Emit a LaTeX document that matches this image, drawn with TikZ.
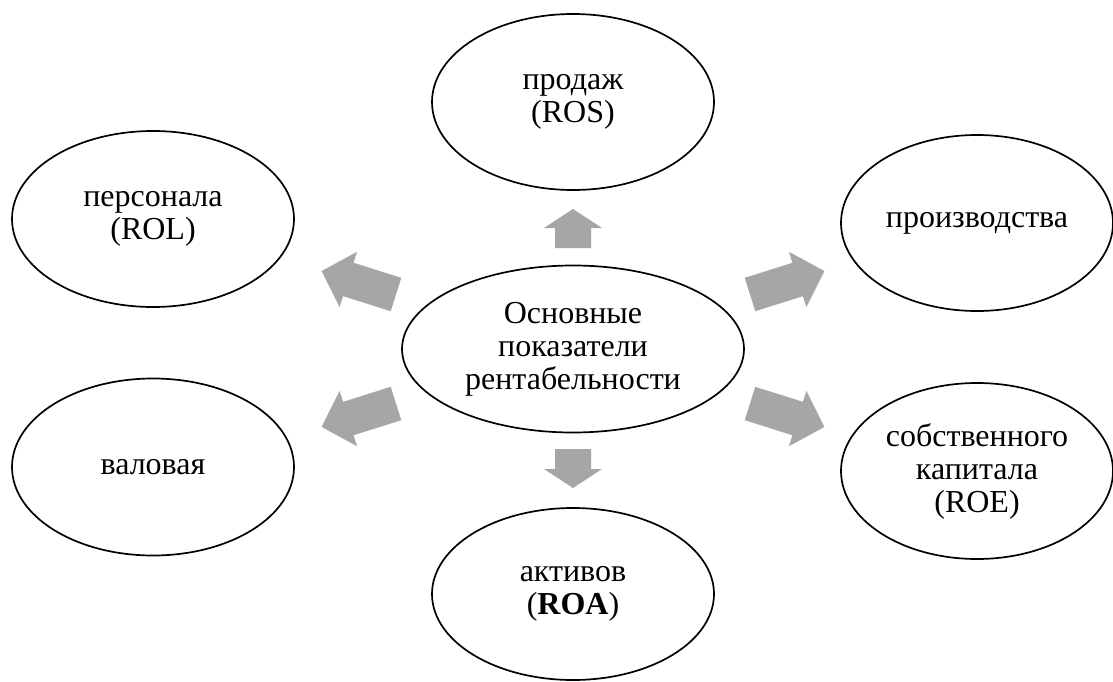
\documentclass[tikz,border=0pt]{standalone}
\usepackage{fontspec}
\setmainfont{Liberation Serif}
\usetikzlibrary{shapes.geometric,calc}
\definecolor{arrowgray}{RGB}{166,166,166}
% #1,#2 offset of the tail centre from the central node, #3 angle, #4 length,
% #5 shaft half width, #6 head half width, #7 head length
\newcommand\blockarrow[7]{%
  \fill[arrowgray, shift={($(c.center)+(#1,#2)$)}, rotate=#3]
    (0,-#5) -- ({#4-#7},-#5) -- ({#4-#7},-#6) -- (#4,0) -- ({#4-#7},#6)
    -- ({#4-#7},#5) -- (0,#5) -- cycle;}
\tikzset{
  bubble/.style={ellipse, draw=black, line width=1.7pt, inner sep=0pt,
    align=center, font=\fontsize{32}{33}\selectfont,
    minimum width=282pt, minimum height=176pt},
}
\begin{document}
\begin{tikzpicture}[x=1pt,y=-1pt]
\useasboundingbox[fill=white] (0,0) rectangle (1113,682);
\node[bubble, minimum width=342pt, minimum height=167pt] (c) at (573,349)
  {Основные\\показатели\\рентабельности};
\node[bubble] (ros) at (573,102) {продаж\\(ROS)};
\node[bubble] (rol) at (153,219) {персонала\\(ROL)};
\node[bubble, minimum width=272pt] (prod) at (977,223) {производства};
\node[bubble, minimum height=177pt] (val) at (153,467) {валовая};
\node[bubble, minimum width=272pt] (roe) at (977,471)
  {собственного\\капитала\\(ROE)};
\node[bubble, minimum height=172pt] (roa) at (573,594) {активов\\(\textbf{ROA})};
\blockarrow{0}{-101}{90}{39}{18}{29}{19}
\blockarrow{0}{100}{-90}{39}{18}{29}{19}
\blockarrow{-177}{-54.5}{162.5}{78}{17.5}{29}{28}
\blockarrow{-177}{54.5}{197.5}{78}{17.5}{29}{28}
\blockarrow{177}{-54.5}{17.5}{78}{17.5}{29}{28}
\blockarrow{177}{54.5}{-17.5}{78}{17.5}{29}{28}
\end{tikzpicture}
\end{document}
